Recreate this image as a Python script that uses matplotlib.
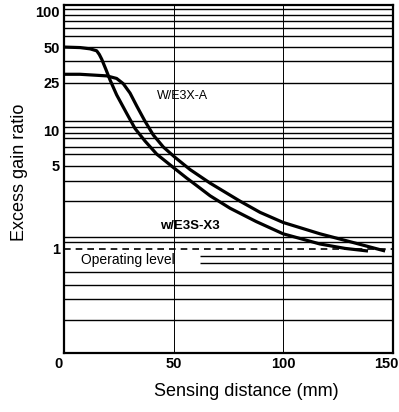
import numpy as np
import matplotlib.pyplot as plt
import matplotlib.transforms as mtransforms

plt.rcParams['font.family'] = ['Liberation Sans', 'DejaVu Sans']

# -----------------------------
# Data
# -----------------------------

# curve that starts at 50 and falls first
dist_a = [0, 7.3, 11.9, 14.9, 16.1, 17.2, 19.2, 21.0, 24.0, 28.6, 32.4, 36.9,
          42.3, 49.1, 55.9, 60.6, 66.6, 75.7, 87.6, 99.9, 116.7, 128.1, 138.6]
gain_a = [50, 49.5, 48.3, 46.5, 43.3, 39.5, 32.1, 26.4, 19.8, 13.8, 10.3, 8.1,
          6.27, 4.97, 3.95, 3.40, 2.80, 2.20, 1.70, 1.34, 1.10, 1.01, 0.96]

# curve that starts at 30 and stays higher further out
dist_b = [0, 7.3, 19.5, 24.0, 27.0, 30.1, 33.2, 36.9, 40.7, 45.3, 50.6, 57.5,
          66.6, 80.3, 89.4, 99.9, 116.7, 130.4, 146.4]
gain_b = [29.5, 29.5, 28.6, 27.2, 24.6, 20.5, 15.9, 11.9, 9.1, 7.2, 5.9, 4.65,
          3.58, 2.52, 2.03, 1.67, 1.34, 1.15, 0.96]

operating_level = 1.0

y_ticks = [1, 5, 10, 25, 50, 100]
x_ticks = [0, 50, 100, 150]

# horizontal rules of the printed chart
grid_full = [103.6, 93.1, 82.2, 72.6, 61.9, 50, 37.9, 25, 11.9, 10.7, 9.5, 8.6,
             7.2, 6.3, 5.0, 3.72, 2.52, 1.26, 1.15, 0.64, 0.50, 0.38, 0.25]
grid_short = [0.87, 0.76]   # stop short of the "Operating level" label
grid_v = [50, 100]

# -----------------------------
# Plot
# -----------------------------

fig = plt.figure(figsize=(3.99, 4.12), dpi=100)
ax = fig.add_axes([0.1604, 0.1432, 0.8246, 0.8447])

ax.set_yscale('log')
ax.set_xlim(0, 150)
ax.set_ylim(0.133, 113)

for g in grid_full:
    ax.axhline(g, color='black', lw=1.0, zorder=1)
for g in grid_short:
    ax.hlines(g, 62, 150, color='black', lw=1.0, zorder=1)
for g in grid_v:
    ax.axvline(g, color='black', lw=0.7, zorder=1)

ax.axhline(operating_level, color='black', lw=1.2, ls=(0, (4, 3)), zorder=2)

ax.plot(dist_a, gain_a, color='black', lw=2.3, zorder=3, solid_capstyle='butt',
        solid_joinstyle='round')
ax.plot(dist_b, gain_b, color='black', lw=2.3, zorder=3, solid_capstyle='butt',
        solid_joinstyle='round')

ax.text(42.4, 19.5, 'W/E3X-A', fontsize=9, ha='left', va='center')
ax.text(43.8, 1.57, 'w/E3S-X3', fontsize=9.5, fontweight='bold',
        ha='left', va='center')
ax.text(7.7, 0.81, 'Operating level', fontsize=10, ha='left', va='center')

ax.set_yticks(y_ticks)
ax.set_yticklabels([str(t) for t in y_ticks])
ax.yaxis.set_minor_locator(plt.NullLocator())
ax.set_xticks(x_ticks)
ax.set_xticklabels([str(t) for t in x_ticks])
ax.tick_params(length=0, labelsize=10.5, pad=3)
for lab in ax.get_xticklabels() + ax.get_yticklabels():
    lab.set_fontweight('bold')

# first and last x labels sit a little left, as in the print
xlabs = ax.get_xticklabels()
xlabs[0].set_transform(xlabs[0].get_transform() +
                       mtransforms.ScaledTranslation(-0.05, 0, fig.dpi_scale_trans))
xlabs[-1].set_transform(xlabs[-1].get_transform() +
                        mtransforms.ScaledTranslation(-0.07, 0, fig.dpi_scale_trans))

for s in ax.spines.values():
    s.set_linewidth(1.6)

ax.set_xlabel('Sensing distance (mm)', fontsize=13)
ax.xaxis.set_label_coords(0.553, -0.085)
ax.set_ylabel('Excess gain ratio', fontsize=13)
ax.yaxis.set_label_coords(-0.11, 0.52)

fig.savefig('out.png', dpi=100)
